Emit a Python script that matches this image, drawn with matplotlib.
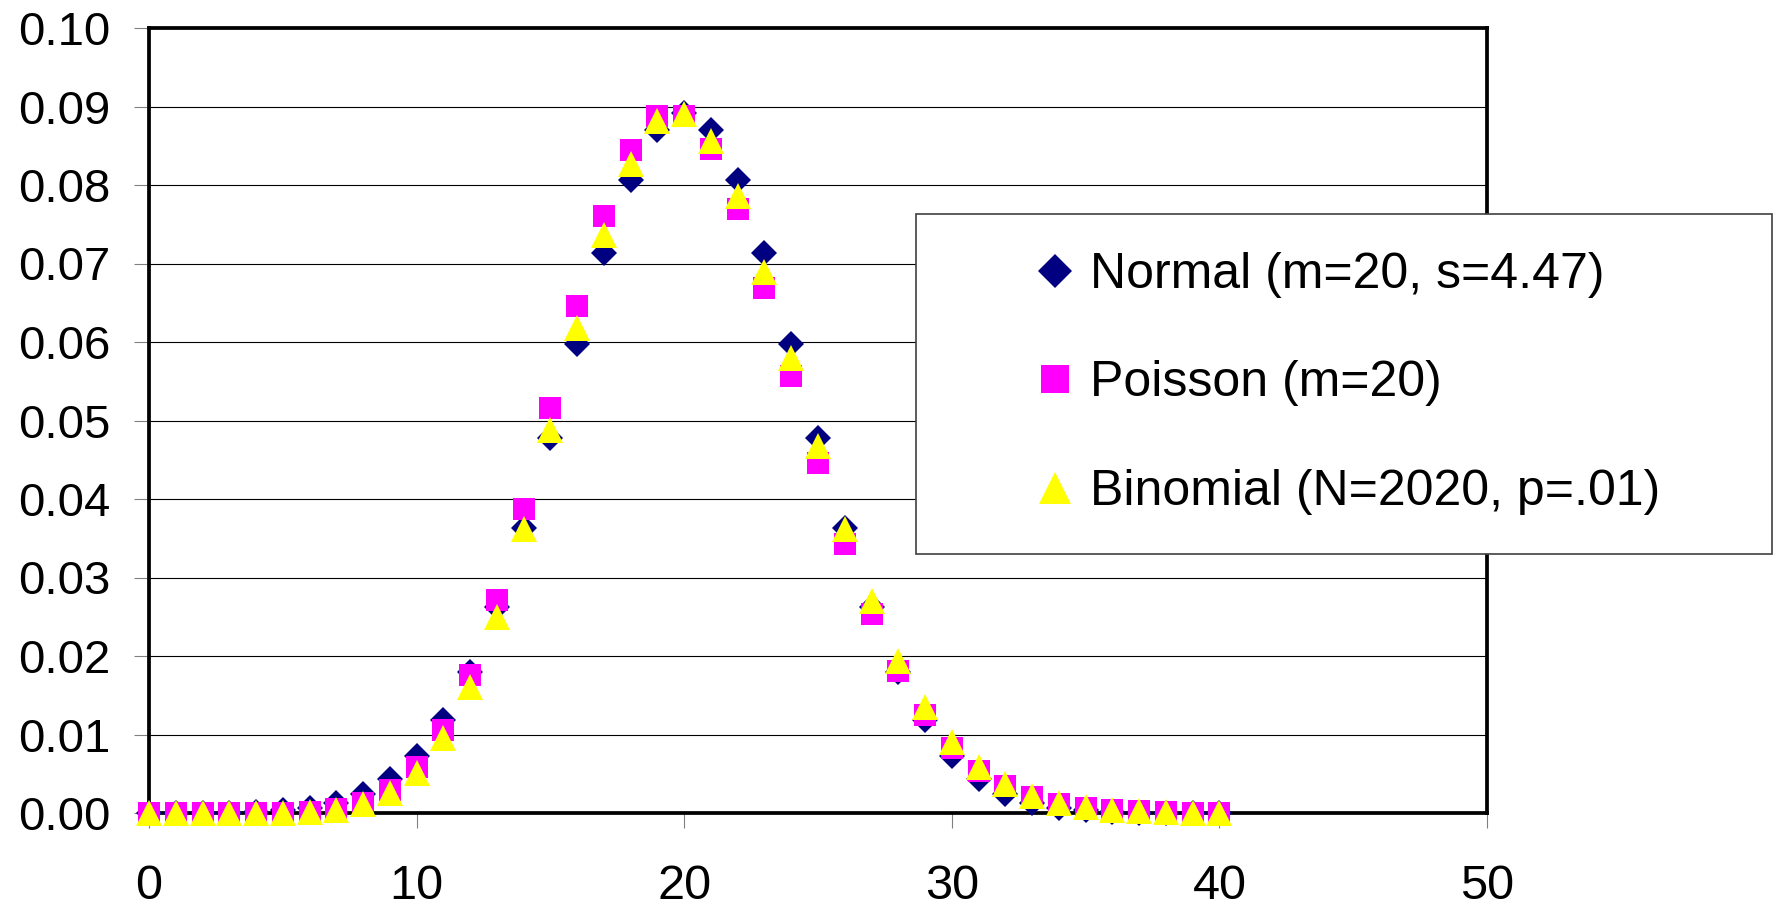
import matplotlib
matplotlib.use('Agg')
import matplotlib.pyplot as plt
from matplotlib.patches import Rectangle

# k = 0..40
k_values = list(range(0, 41))

normal_vals = [0.0, 0.00001, 0.00003, 0.00006, 0.00015, 0.00032, 0.00066, 0.0013,
               0.0024, 0.0043, 0.0073, 0.0118, 0.0180, 0.0262, 0.0363, 0.0478,
               0.0598, 0.0713, 0.0807, 0.0870, 0.0892, 0.0870, 0.0807, 0.0713,
               0.0598, 0.0478, 0.0363, 0.0262, 0.0180, 0.0118, 0.0073, 0.0043,
               0.0024, 0.0013, 0.00066, 0.00032, 0.00015, 0.00006, 0.00003,
               0.00001, 0.0]

poisson_vals = [0.0, 0.0, 0.0, 0.0, 0.00001, 0.000055, 0.00018, 0.00052, 0.0013,
                0.0029, 0.0058, 0.0106, 0.0176, 0.0271, 0.0387, 0.0516, 0.0646,
                0.0760, 0.0844, 0.0888, 0.0888, 0.0846, 0.0769, 0.0669, 0.0557,
                0.0446, 0.0343, 0.0254, 0.0181, 0.0125, 0.0083, 0.0054, 0.0034,
                0.0020, 0.0012, 0.00068, 0.00038, 0.00021, 0.00011, 0.00006,
                0.00003]

binomial_vals = [0.0, 0.0, 0.0, 0.000002, 0.000011, 0.000045, 0.00015, 0.00044,
                 0.0011, 0.0025, 0.0051, 0.0095, 0.0160, 0.0250, 0.0362, 0.0488,
                 0.0618, 0.0736, 0.0827, 0.0881, 0.0890, 0.0856, 0.0786, 0.0689,
                 0.0579, 0.0467, 0.0362, 0.0270, 0.0194, 0.0135, 0.0090, 0.0059,
                 0.0037, 0.0022, 0.0013, 0.00076, 0.00042, 0.00023, 0.00012,
                 0.00006, 0.00003]

series_labels = ['Normal (m=20, s=4.47)', 'Poisson (m=20)', 'Binomial (N=2020, p=.01)']

x_ticks = [0, 10, 20, 30, 40, 50]
y_ticks = [0.00, 0.01, 0.02, 0.03, 0.04, 0.05, 0.06, 0.07, 0.08, 0.09, 0.10]

plt.rcParams['font.family'] = ['Liberation Sans', 'DejaVu Sans']

W, H = 1782, 907
fig = plt.figure(figsize=(W / 100, H / 100), dpi=100)
fig.patch.set_facecolor('white')

# plot area in pixels: x 149..1487, y 28..813
ax = fig.add_axes((149 / W, 1 - 813 / H, (1487 - 149) / W, (813 - 28) / H))

ax.plot(k_values, normal_vals, linestyle='none', marker='D', markersize=13.5,
        color='#000080', markeredgewidth=0, label=series_labels[0], clip_on=False, zorder=3)
ax.plot(k_values, poisson_vals, linestyle='none', marker='s', markersize=16.5,
        color='#FF00FF', markeredgewidth=0, label=series_labels[1], clip_on=False, zorder=4)
ax.plot(k_values, binomial_vals, linestyle='none', marker='^', markersize=19,
        color='#FFFF00', markeredgewidth=0, label=series_labels[2], clip_on=False, zorder=5)

ax.set_xlim(0, 50)
ax.set_ylim(0, 0.10)
ax.set_xticks(x_ticks)
ax.set_yticks(y_ticks)
ax.set_yticklabels([f'{v:.2f}' for v in y_ticks])
ax.yaxis.grid(True, color='black', linewidth=0.8)
ax.set_axisbelow(True)

for s in ax.spines.values():
    s.set_linewidth(2.7)
    s.set_color('black')

ax.tick_params(axis='y', direction='out', length=11, width=0.8, color='#808080',
               labelsize=34, pad=17)
ax.tick_params(axis='x', direction='out', length=11, width=0.8, color='#808080',
               labelsize=35, pad=26)

# legend box drawn in figure pixels
box = Rectangle((916 / W, 1 - 554 / H), (1772 - 916) / W, (554 - 214) / H,
                transform=fig.transFigure, facecolor='white', edgecolor='#404040',
                linewidth=1.2, zorder=10)
fig.patches.append(box)

leg = fig.legend(loc='upper left', bbox_to_anchor=(1032 / W, 1 - 252 / H),
                 frameon=False, fontsize=36, handlelength=0.9, handletextpad=0.25,
                 labelspacing=1.25, borderpad=0.0, borderaxespad=0.0, markerscale=1.25)
leg.set_zorder(11)

fig.savefig('out.png', dpi=100, facecolor='white')
